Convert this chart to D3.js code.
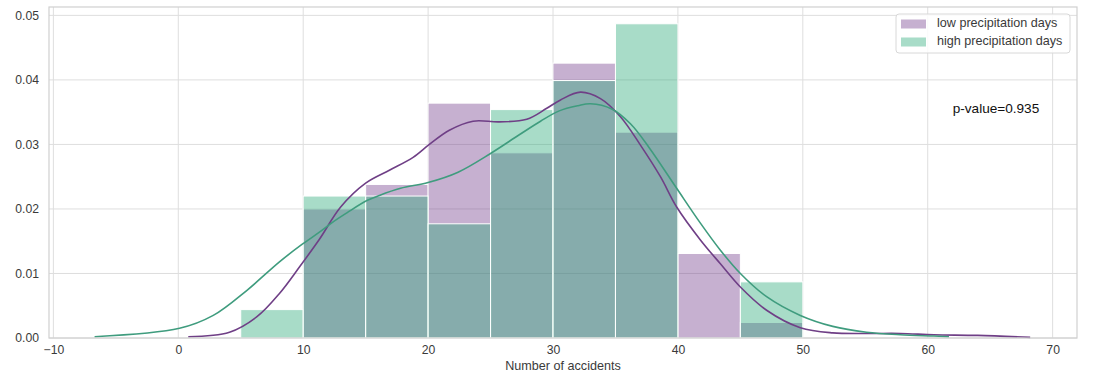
<!DOCTYPE html>
<html>
<head>
<meta charset="utf-8">
<script src="https://cdn.jsdelivr.net/npm/d3@7"></script>
<style>
  html, body { margin: 0; padding: 0; background: #fff; }
  svg text { font-family: "Liberation Sans", Arial, sans-serif; }
</style>
</head>
<body>
<svg id="chart"></svg>
<script>
// ── Data ───────────────────────────────────────────────────────────────────
const binEdges = [5, 10, 15, 20, 25, 30, 35, 40, 45, 50];
const lowHist  = [0, 0.0200, 0.0238, 0.0364, 0.0287, 0.0426, 0.0319, 0.0131, 0.0024];
const highHist = [0.0044, 0.0220, 0.0220, 0.0177, 0.0354, 0.0399, 0.0487, 0, 0.0087];

const lowKdeX = [0.8, 4.1, 6.3, 8.1, 9.7, 11.3, 13.0, 15.0, 16.9, 18.8, 20.1, 21.7, 23.6, 25.7, 27.9, 29.5, 30.6, 32.2, 33.8, 35.4, 37.0, 38.6, 39.9, 41.8, 43.4, 45.0, 47.1, 49.8, 52.4, 55.1, 57.8, 60.5, 64.0, 68.2];
const lowKdeY = [0.0002, 0.0009, 0.0033, 0.0069, 0.0110, 0.0153, 0.0203, 0.0240, 0.0260, 0.0280, 0.0300, 0.0322, 0.0336, 0.0335, 0.0339, 0.0356, 0.0369, 0.0381, 0.0371, 0.0343, 0.0299, 0.0250, 0.0203, 0.0152, 0.0115, 0.0079, 0.0043, 0.0016, 0.0008, 0.0007, 0.0007, 0.0005, 0.0004, 0.0001];

const highKdeX = [-6.7, 0.1, 2.8, 5.5, 8.1, 9.9, 11.3, 12.4, 13.5, 15.1, 16.1, 17.8, 20.0, 22.4, 25.0, 27.3, 29.0, 30.5, 32.0, 33.0, 34.7, 36.2, 37.7, 39.9, 41.8, 43.4, 45.0, 47.1, 49.8, 52.4, 55.1, 57.8, 60.5, 61.7];
const highKdeY = [0.0002, 0.0015, 0.0035, 0.0074, 0.0118, 0.0145, 0.0164, 0.0180, 0.0194, 0.0213, 0.0221, 0.0232, 0.0241, 0.0257, 0.0286, 0.0315, 0.0336, 0.0352, 0.0360, 0.0363, 0.0355, 0.0332, 0.0295, 0.0232, 0.0178, 0.0136, 0.0100, 0.0064, 0.0035, 0.0018, 0.0009, 0.0005, 0.0003, 0.0002];

const xTicks = [-10, 0, 10, 20, 30, 40, 50, 60, 70];
const yTicks = [0, 0.01, 0.02, 0.03, 0.04, 0.05];
const seriesNames = ["low precipitation days", "high precipitation days"];
const pValueText = "p-value=0.935";
const xLabel = "Number of accidents";

// ── Layout ─────────────────────────────────────────────────────────────────
const W = 1100, H = 377;
const margin = { top: 7, right: 23, bottom: 39, left: 49 };
const w = W - margin.left - margin.right;
const h = H - margin.top - margin.bottom;

const purple = "#703989", green = "#25a775";
const purpleLine = "#6f3f86", greenLine = "#3f9c7e";
const gridColor = "#dedede", textColor = "#3a3a3a";

const root = d3.select("#chart").attr("width", W).attr("height", H);
const svg = root.append("g").attr("transform", `translate(${margin.left},${margin.top})`);

const x = d3.scaleLinear().domain([-10.35, 71.95]).range([0, w]);
const y = d3.scaleLinear().domain([0, 0.0513]).range([h, 0]);

// ── Gridlines ──────────────────────────────────────────────────────────────
svg.append("g")
    .selectAll("line").data(xTicks).join("line")
    .attr("x1", d => x(d)).attr("x2", d => x(d))
    .attr("y1", 0).attr("y2", h)
    .attr("stroke", gridColor).attr("stroke-width", 1);

svg.append("g")
    .selectAll("line").data(yTicks).join("line")
    .attr("x1", 0).attr("x2", w)
    .attr("y1", d => y(d)).attr("y2", d => y(d))
    .attr("stroke", gridColor).attr("stroke-width", 1);

// ── Histograms ─────────────────────────────────────────────────────────────
function drawHist(values, color) {
    svg.append("g")
        .selectAll("rect")
        .data(values.map((v, i) => ({ x0: binEdges[i], x1: binEdges[i + 1], v })).filter(d => d.v > 0))
        .join("rect")
        .attr("x", d => x(d.x0))
        .attr("width", d => x(d.x1) - x(d.x0))
        .attr("y", d => y(d.v))
        .attr("height", d => y(0) - y(d.v))
        .attr("fill", color)
        .attr("fill-opacity", 0.4)
        .attr("stroke", "#fff")
        .attr("stroke-width", 1);
}
drawHist(lowHist, purple);
drawHist(highHist, green);

// ── KDE lines ──────────────────────────────────────────────────────────────
const line = d3.line()
    .x(d => x(d[0]))
    .y(d => y(d[1]))
    .curve(d3.curveCatmullRom.alpha(0.5));

svg.append("path")
    .datum(lowKdeX.map((v, i) => [v, lowKdeY[i]]))
    .attr("fill", "none").attr("stroke", purpleLine).attr("stroke-width", 1.6)
    .attr("d", line);

svg.append("path")
    .datum(highKdeX.map((v, i) => [v, highKdeY[i]]))
    .attr("fill", "none").attr("stroke", greenLine).attr("stroke-width", 1.6)
    .attr("d", line);

// ── Spines ─────────────────────────────────────────────────────────────────
svg.append("rect")
    .attr("x", 0).attr("y", 0).attr("width", w).attr("height", h)
    .attr("fill", "none").attr("stroke", "#d0d0d0").attr("stroke-width", 1.2);

// ── Axes ───────────────────────────────────────────────────────────────────
svg.append("g")
    .attr("transform", `translate(0,${h})`)
    .call(d3.axisBottom(x).tickValues(xTicks).tickSize(0).tickPadding(7)
        .tickFormat(d => d < 0 ? "\u2212" + Math.abs(d) : d))
    .call(g => g.select(".domain").remove())
    .selectAll("text")
        .attr("font-size", 12.2).attr("fill", textColor)
        .style("font-family", "Liberation Sans, Arial, sans-serif");

svg.append("g")
    .call(d3.axisLeft(y).tickValues(yTicks).tickSize(0).tickPadding(10)
        .tickFormat(d3.format(".2f")))
    .call(g => g.select(".domain").remove())
    .selectAll("text")
        .attr("font-size", 12.2).attr("fill", textColor)
        .style("font-family", "Liberation Sans, Arial, sans-serif");

svg.append("text")
    .attr("x", w / 2).attr("y", h + 32)
    .attr("text-anchor", "middle")
    .attr("font-size", 12.6).attr("fill", textColor)
    .text(xLabel);

// ── p-value annotation ─────────────────────────────────────────────────────
svg.append("text")
    .attr("x", x(62)).attr("y", y(0.0355))
    .attr("dominant-baseline", "middle")
    .attr("font-size", 13.6).attr("fill", "#111")
    .text(pValueText);

// ── Legend ─────────────────────────────────────────────────────────────────
const lg = root.append("g").attr("transform", "translate(896,14)");
lg.append("rect")
    .attr("width", 174).attr("height", 39).attr("rx", 3)
    .attr("fill", "#fff").attr("fill-opacity", 0.85)
    .attr("stroke", "#d8d8d8").attr("stroke-width", 1);

[purple, green].forEach((c, i) => {
    const row = lg.append("g").attr("transform", `translate(0,${10 + i * 18})`);
    row.append("rect")
        .attr("x", 5).attr("y", -4.5).attr("width", 25).attr("height", 9)
        .attr("fill", c).attr("fill-opacity", 0.4);
    row.append("text")
        .attr("x", 41).attr("y", 0)
        .attr("dominant-baseline", "middle")
        .attr("font-size", 12.6).attr("fill", textColor)
        .text(seriesNames[i]);
});
</script>
</body>
</html>
